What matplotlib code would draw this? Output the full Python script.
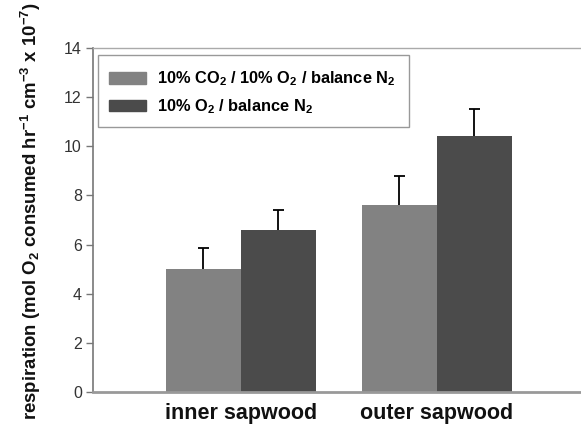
import numpy as np
import matplotlib
matplotlib.use('Agg')
import matplotlib.pyplot as plt
from matplotlib.patches import Rectangle, Patch

plt.rcParams['font.family'] = ['Liberation Sans', 'DejaVu Sans']
plt.rcParams['mathtext.fontset'] = 'custom'
plt.rcParams['mathtext.rm'] = 'Liberation Sans:bold'
plt.rcParams['mathtext.bf'] = 'Liberation Sans:bold'
plt.rcParams['mathtext.default'] = 'bf'

# respiration rates, mean and SE
sites = ['inner sapwood', 'outer sapwood']
co2_mean = [5.0, 7.6]
co2_err = [0.85, 1.2]
o2_mean = [6.6, 10.4]
o2_err = [0.8, 1.1]
series_names = ['10% CO$_2$ / 10% O$_2$ / balance N$_2$',
                '10% O$_2$ / balance N$_2$']
yticks = [0, 2, 4, 6, 8, 10, 12, 14]

light = '#828282'
dark = '#4b4b4b'

fig = plt.figure(figsize=(5.81, 4.29), dpi=100)
ax = fig.add_axes([0.160, 0.0862, 0.840, 0.802])

x = np.arange(len(sites))
w = 0.383
cap = 0.028


def upper_err(ax, xs, mean, err):
    # whisker above the bar only, with a cap
    top = np.array(mean) + np.array(err)
    ax.vlines(xs, mean, top, color='black', linewidth=1.3, zorder=3)
    ax.hlines(top, xs - cap, xs + cap, color='black', linewidth=1.3, zorder=3)


ax.bar(x - w / 2, co2_mean, w, color=light, linewidth=0, zorder=2)
ax.bar(x + w / 2, o2_mean, w, color=dark, linewidth=0, zorder=2)
upper_err(ax, x - w / 2, co2_mean, co2_err)
upper_err(ax, x + w / 2, o2_mean, o2_err)

ax.set_xlim(-0.755, 1.735)
ax.set_ylim(0, 14)
ax.set_yticks(yticks)
ax.set_yticklabels([str(t) for t in yticks], fontsize=11.5, color='#333333')
ax.set_xticks(x)
ax.set_xticklabels(sites, fontsize=15.5, fontweight='bold', color='#111111')
ax.tick_params(axis='x', length=0, pad=8)
ax.tick_params(axis='y', length=5, width=1, color='#777777', pad=3, direction='out')

ax.spines['left'].set_color('#777777')
ax.spines['left'].set_linewidth(1.2)
ax.spines['bottom'].set_color('#999999')
ax.spines['bottom'].set_linewidth(2)
ax.spines['top'].set_color('#aaaaaa')
ax.spines['top'].set_linewidth(1)
ax.spines['right'].set_visible(False)

# legend with its own frame
fx0, fx1 = (98 - 93) / 488, (409 - 93) / 488
fy0, fy1 = (392 - 127) / 344, (392 - 55) / 344
ax.add_patch(Rectangle((fx0, fy0), fx1 - fx0, fy1 - fy0, transform=ax.transAxes,
                       facecolor='white', edgecolor='#999999', linewidth=1, zorder=4))
handles = [Patch(facecolor=light, edgecolor=light), Patch(facecolor=dark, edgecolor=dark)]
leg = ax.legend(handles, series_names, loc='upper left', bbox_to_anchor=(0.033, 0.937),
                frameon=False, prop={'size': 11.8, 'weight': 'bold'},
                handlelength=2.25, handleheight=0.7, handletextpad=0.7,
                labelspacing=0.55, borderpad=0, borderaxespad=0)
leg.set_zorder(5)

fig.text(31 / 581, 1 - 2 / 429,
         'respiration (mol O$_2$ consumed hr$^{-1}$ cm$^{-3}$ x 10$^{-7}$)',
         rotation=90, ha='center', va='top', fontsize=13.4, fontweight='bold',
         color='#111111')

fig.savefig('out.png', dpi=100)
